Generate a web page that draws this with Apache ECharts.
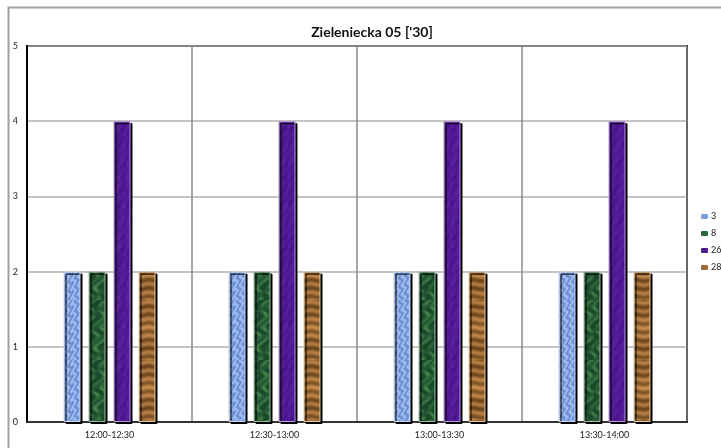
<!DOCTYPE html>
<html>
<head>
<meta charset="utf-8">
<script src="https://cdn.jsdelivr.net/npm/echarts@6/dist/echarts.min.js"></script>
<style>
html,body{margin:0;padding:0;background:#fff;}
#c{width:721px;height:448px;}
</style>
</head>
<body>
<div id="c"></div>
<script>
const titleText = "Zielenieck\u0061 05 ['30]";
const categories = ["12:00-12:30", "12:30-13:00", "13:00-13:30", "13:30-14:00"];
const seriesNames = ["3", "8", "26", "28"];
const values3 = [2, 2, 2, 2];
const values8 = [2, 2, 2, 2];
const values26 = [4, 4, 4, 4];
const values28 = [2, 2, 2, 2];
const yTicks = [0, 1, 2, 3, 4, 5];

function texture(kind) {
  const c = document.createElement('canvas');
  c.width = 18; c.height = 60;
  const ctx = c.getContext('2d');
  const img = ctx.createImageData(c.width, c.height);
  for (let y = 0; y < c.height; y++) {
    for (let x = 0; x < c.width; x++) {
      let r, g, b;
      if (kind === 'blue') {
        const t = Math.sin((x + 1.5 * Math.sin(y * 0.7 + x * 0.3)) * 1.1) * 0.5 + 0.5;
        r = 105 + 55 * t; g = 140 + 50 * t; b = 210 + 30 * t;
      } else if (kind === 'green') {
        const t = Math.pow(Math.sin(x * 0.5 + Math.sin(y * 0.3) * 2.5) * Math.sin(y * 0.21 + x * 0.15) * 0.5 + 0.5, 2);
        r = 25 + 45 * t; g = 72 + 65 * t; b = 42 + 35 * t;
      } else if (kind === 'purple') {
        const t = Math.sin(x * 0.6 + y * 0.31) * Math.sin(y * 0.19) * 0.5 + 0.5;
        r = 72 + 18 * t; g = 20 + 12 * t; b = 138 + 22 * t;
      } else {
        const t = Math.sin(y * 0.75 + Math.sin(x * 0.35) * 0.5) * 0.5 + 0.5;
        const u = Math.sin(y * 0.17) * 0.5 + 0.5;
        r = 130 + 70 * t - 25 * u; g = 88 + 52 * t - 20 * u; b = 40 + 35 * t - 12 * u;
      }
      const i = (y * c.width + x) * 4;
      img.data[i] = r; img.data[i + 1] = g; img.data[i + 2] = b; img.data[i + 3] = 255;
    }
  }
  ctx.putImageData(img, 0, 0);
  return { image: c, repeat: 'repeat' };
}

const fills = [texture('blue'), texture('green'), texture('purple'), texture('brown')];
const edges = ['#c8d6f0', '#9ab8a0', '#b89ad8', '#e0c8a8'];
const legendColors = ['#7c9ed8', '#2a6a3a', '#4a1a8a', '#a06a38'];
const allValues = [values3, values8, values26, values28];

const chart = echarts.init(document.getElementById('c'));
chart.setOption({
  animation: false,
  backgroundColor: '#fff',
  title: {
    text: titleText,
    left: 367, top: 20, textAlign: 'center',
    textStyle: { fontFamily: 'Lato', fontWeight: 'bold', fontSize: 14, color: '#111' }
  },
  graphic: [{
    type: 'rect', left: 6, top: 5, z: 0,
    shape: { x: 0, y: 0, width: 760, height: 480 },
    style: { fill: 'none', stroke: '#a0a0a0', lineWidth: 2 }
  }],
  legend: {
    orient: 'vertical', left: 701, top: 212, padding: 0,
    itemWidth: 7, itemHeight: 5, itemGap: 8,
    textStyle: { fontFamily: 'Lato', fontSize: 9, color: '#222', padding: [0, 0, 0, -2] },
    data: seriesNames.map((n, i) => ({ name: n, itemStyle: { color: legendColors[i], borderWidth: 0, shadowBlur: 0, shadowOffsetX: 0, shadowOffsetY: 0 } }))
  },
  grid: {
    left: 27, right: 34, top: 46, bottom: 26,
    show: true, borderColor: '#000', borderWidth: 2, backgroundColor: '#fff'
  },
  xAxis: {
    type: 'category', data: categories,
    axisLine: { show: true, lineStyle: { color: '#333', width: 2 } },
    axisTick: { show: false },
    splitLine: { show: true, lineStyle: { color: '#8a8a8a', width: 1.5 } },
    axisLabel: { fontFamily: 'Lato', fontSize: 9, color: '#222', margin: 9 }
  },
  yAxis: {
    type: 'value', min: yTicks[0], max: yTicks[yTicks.length - 1], interval: 1,
    axisLine: { show: true, lineStyle: { color: '#000', width: 2 } },
    axisTick: { show: false },
    splitLine: { show: true, lineStyle: { color: '#b0b0b0', width: 1.5 } },
    axisLabel: { fontFamily: 'Lato', fontSize: 9, color: '#222', margin: 9 }
  },
  series: seriesNames.map((n, i) => ({
    name: n, type: 'bar', data: allValues[i],
    barWidth: 17, barGap: '47%',
    itemStyle: {
      color: fills[i], borderColor: edges[i], borderWidth: 1,
      shadowColor: '#000', shadowOffsetX: 2, shadowOffsetY: 2, shadowBlur: 0
    }
  }))
});
</script>
</body>
</html>
